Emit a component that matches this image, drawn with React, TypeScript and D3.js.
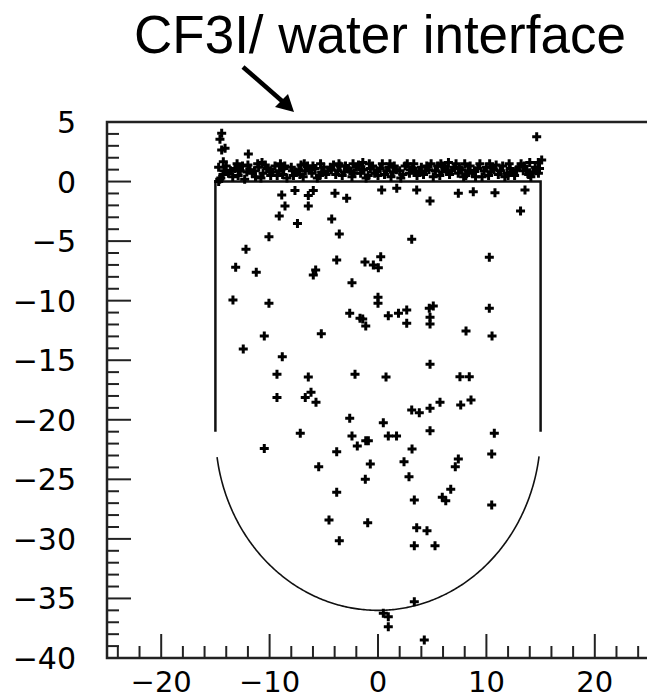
import React from 'react';
import * as d3 from 'd3';

const W = 647;
const H = 699;

const titleText = 'CF3I/ water interface';
const xMajorTicks = [-20, -10, 0, 10, 20];
const yMajorTicks = [5, 0, -5, -10, -15, -20, -25, -30, -35, -40];

// points above the interface band
const abovePoints: [number, number][] = [
  [-14.42, 4.06], [-14.58, 3.55], [-14.42, 2.65], [-14.11, 2.8], [-11.96, 2.32],
  [-14.27, 1.67], [14.64, 3.77], [15.1, 1.81], [14.79, 1.59], [-14.6, 0.2], [-14.7, 0.0],
];

// dense band at the CF3I / water interface
const bandPoints: [number, number][] = [
  [-14.7, 1.2], [-14.3, 0.6], [-14.0, 1.3], [-13.6, 0.9], [-13.2, 1.1], [-12.9, 0.5], [-12.5, 1.3],
  [-12.1, 0.8], [-11.8, 1.0], [-11.3, 0.4], [-11.0, 1.2], [-10.6, 0.7], [-10.2, 1.1], [-9.9, 0.5],
  [-9.5, 1.3], [-9.1, 0.9], [-8.7, 1.1], [-8.4, 0.3], [-8.0, 1.2], [-7.6, 0.8], [-7.3, 1.0],
  [-6.9, 0.4], [-6.5, 1.3], [-6.1, 0.7], [-5.8, 1.1], [-5.4, 0.5], [-5.0, 1.2], [-4.6, 0.9],
  [-4.3, 1.0], [-3.9, 0.6], [-3.5, 1.3], [-3.1, 0.8], [-2.8, 1.1], [-2.4, 0.4], [-2.0, 1.2],
  [-1.6, 0.7], [-1.3, 1.0], [-0.9, 0.5], [-0.5, 1.3], [-0.1, 0.9], [0.2, 1.1], [0.6, 0.6],
  [1.0, 1.2], [1.4, 0.8], [1.7, 1.0], [2.1, 0.3], [2.5, 1.3], [2.9, 0.7], [3.2, 1.1],
  [3.6, 0.5], [4.0, 1.2], [4.4, 0.9], [4.7, 1.0], [5.1, 0.4], [5.5, 1.3], [5.9, 0.8],
  [6.2, 1.1], [6.6, 0.6], [7.0, 1.2], [7.4, 0.7], [7.7, 1.0], [8.1, 0.5], [8.5, 1.3],
  [8.9, 0.9], [9.2, 1.1], [9.6, 0.4], [10.0, 1.2], [10.4, 0.8], [10.7, 1.0], [11.1, 0.6],
  [11.5, 1.3], [11.9, 0.7], [12.2, 1.1], [12.6, 0.5], [13.0, 1.2], [13.4, 0.9], [13.7, 1.0],
  [14.1, 0.4], [14.5, 1.2], [14.8, 0.7],
  [-14.5, 0.3], [-13.8, 0.7], [-12.3, 0.2], [-11.6, 0.7], [-10.4, 1.4], [-9.7, 0.8], [-8.8, 0.6],
  [-7.8, 0.5], [-7.1, 1.4], [-6.3, 1.0], [-5.2, 0.8], [-4.1, 1.4], [-3.3, 0.5], [-2.6, 0.9],
  [-1.8, 1.4], [-1.1, 0.3], [-0.3, 0.7], [0.4, 1.5], [1.2, 0.4], [2.0, 0.9], [2.7, 1.5],
  [3.4, 0.9], [4.2, 0.6], [4.9, 1.5], [5.7, 0.5], [6.4, 0.9], [7.2, 1.5], [7.9, 0.4],
  [8.7, 0.7], [9.4, 1.5], [10.2, 0.5], [10.9, 1.4], [11.7, 0.4], [12.4, 0.8], [13.2, 1.5],
  [13.9, 0.6], [14.6, 0.9],
  [-14.2, 0.9], [-13.4, 0.4], [-12.7, 0.9], [-12.0, 1.4], [-11.4, 0.9], [-10.8, 0.3], [-10.0, 0.9],
  [-9.3, 0.5], [-8.6, 1.3], [-7.9, 0.9], [-7.2, 0.6], [-6.7, 0.9], [-6.0, 1.3], [-5.6, 0.3],
  [-4.8, 0.6], [-4.4, 1.2], [-3.7, 0.9], [-3.0, 1.3], [-2.2, 0.7], [-1.5, 1.0], [-0.7, 1.1],
  [0.0, 0.5], [0.8, 0.9], [1.5, 1.3], [2.3, 0.6], [3.0, 1.0], [3.8, 0.8], [4.5, 1.3],
  [5.3, 0.9], [6.0, 1.3], [6.8, 0.9], [7.5, 1.1], [8.3, 0.9], [9.0, 0.4], [9.8, 0.9],
  [10.5, 1.2], [11.3, 0.9], [12.0, 0.5], [12.8, 1.0], [13.5, 1.3], [14.3, 0.8], [14.9, 1.1],
  [-13.0, 1.5], [-11.1, 1.5], [-9.0, 1.5], [-6.8, 1.5], [-5.3, 1.5], [-3.6, 1.5], [-2.3, 1.5],
  [-0.8, 1.5], [1.1, 1.5], [3.3, 1.5], [5.8, 1.5], [8.0, 1.5], [10.3, 1.5], [12.1, 1.5],
  [14.0, 1.6], [-1.4, 1.6], [6.5, 1.6], [-10.7, 1.6],
];

// events in the bulk of the vessel
const bulkPoints: [number, number][] = [
  [-8.88, -1.13], [-7.66, -0.76], [-6.43, -1.18], [-5.97, -0.76], [-3.97, -0.98], [-2.89, -1.4],
  [-8.58, -2.05], [-6.43, -2.05], [-9.11, -2.89], [-7.43, -3.52], [-4.27, -3.14], [-3.57, -4.4],
  [-10.06, -4.63], [0.34, -0.71], [1.73, -0.56], [3.57, -0.71], [4.8, -1.63], [7.41, -0.98],
  [8.79, -0.85], [10.79, -0.93], [13.56, -0.71], [13.15, -2.47], [3.11, -4.84], [10.27, -6.36],
  [-12.18, -5.68], [-3.81, -6.58], [-1.2, -6.75], [0.25, -6.31], [-0.43, -7.0], [0.03, -7.23],
  [-13.13, -7.2], [-11.23, -7.62], [-5.75, -7.42], [-5.97, -7.84], [-2.4, -8.49], [-13.38, -9.94],
  [-10.06, -10.22], [0.0, -9.71], [0.0, -10.22], [-2.61, -11.06], [-1.66, -11.48], [-1.41, -11.54],
  [-1.13, -12.12], [0.95, -11.26], [1.89, -11.06], [2.65, -10.78], [2.65, -11.9], [4.73, -10.64],
  [5.1, -10.45], [4.8, -11.39], [4.8, -11.96], [10.27, -10.64], [8.12, -12.54], [10.52, -12.96],
  [-10.49, -12.96], [-5.23, -12.77], [-12.43, -14.06], [-8.83, -14.7], [-9.32, -16.18],
  [-6.43, -16.41], [-2.12, -16.18], [0.74, -16.41], [4.8, -15.34], [7.56, -16.38], [8.42, -16.38],
  [-9.32, -18.14], [-6.18, -17.69], [-6.71, -18.14], [-5.72, -18.53], [3.11, -19.18],
  [3.81, -19.4], [4.8, -19.04], [5.72, -18.53], [7.63, -18.76], [8.58, -18.34], [-2.61, -19.87],
  [0.49, -20.24], [-7.17, -21.13], [-2.4, -21.36], [-1.13, -21.76], [-0.89, -21.76],
  [-1.91, -22.2], [0.95, -21.36], [1.71, -21.36], [4.8, -20.92], [10.73, -21.13],
  [-10.49, -22.41], [-3.81, -22.68], [3.14, -22.45], [10.49, -22.87], [7.41, -23.29],
  [7.13, -23.94], [2.4, -23.52], [-0.71, -23.71], [-5.47, -23.94], [2.86, -24.78],
  [-1.17, -25.0], [-3.81, -26.09], [6.71, -25.84], [5.93, -26.51], [6.25, -26.79],
  [3.35, -26.73], [10.49, -27.15], [-4.52, -28.41], [-0.95, -28.64], [3.57, -29.06],
  [4.52, -29.31], [-3.57, -30.15], [3.35, -30.57], [5.26, -30.57], [3.35, -35.27],
  [0.49, -36.25], [0.95, -36.53], [0.95, -37.37], [4.27, -38.49],
];

const fmt = (v: number) => String(v).replace('-', '\u2212');

export default function App() {
  const x = d3.scaleLinear().domain([-25, 25]).range([107, 649]);
  const y = d3.scaleLinear().domain([-40, 5]).range([658, 122]);

  const xMinor = d3.range(-24, 25, 2).filter((v) => v % 10 !== 0);
  const yMinor = d3.range(-39, 5, 1).filter((v) => v % 5 !== 0);

  // vessel outline: cylinder walls and hemispherical bottom (centre y=-21, r=15)
  const wallPath = `M${x(-15)},${y(-21)}V${y(0)}H${x(15)}V${y(-21)}`;
  const t0 = Math.asin(2.07 / 15);
  const angles = d3.range(t0, Math.PI - t0 + 1e-6, 0.01);
  const arc = d3
    .line<number>()
    .x((t) => x(15 * Math.cos(t)))
    .y((t) => y(-21 - 15 * Math.sin(t)))(angles) as string;

  const allPts = [...bandPoints, ...abovePoints, ...bulkPoints];
  const frameColor = '#222';
  const axisFont = '"DejaVu Sans", sans-serif';

  return (
    <svg
      width={W}
      height={H}
      style={{ position: 'absolute', left: 0, top: 0, background: '#fff' }}
    >
      <rect x={0} y={0} width={W} height={H} fill="#fff" />
      {/* title and arrow */}
      <text
        x={134}
        y={53}
        fontFamily='"Liberation Sans", Arial, sans-serif'
        fontSize={53}
        fill="#000"
      >
        {titleText}
      </text>
      <line x1={243} y1={67} x2={282} y2={101} stroke="#000" strokeWidth={4.5} />
      <path d="M294,112 L275,107 L288,94 Z" fill="#000" />

      {/* frame */}
      <path
        d={`M${x(-25)},${y(5)}H${x(25)}V${y(-40)}H${x(-25)}Z`}
        fill="none"
        stroke={frameColor}
        strokeWidth={2.5}
      />
      {/* x ticks */}
      {xMajorTicks.map((v) => (
        <line key={'xM' + v} x1={x(v)} x2={x(v)} y1={y(-40)} y2={y(-40) - 24} stroke={frameColor} strokeWidth={2} />
      ))}
      {xMinor.map((v) => (
        <line key={'xm' + v} x1={x(v)} x2={x(v)} y1={y(-40)} y2={y(-40) - 12} stroke={frameColor} strokeWidth={2} />
      ))}
      {/* y ticks */}
      {yMajorTicks.map((v) => (
        <line key={'yM' + v} x1={x(-25)} x2={x(-25) + 24} y1={y(v)} y2={y(v)} stroke={frameColor} strokeWidth={2} />
      ))}
      {yMinor.map((v) => (
        <line key={'ym' + v} x1={x(-25)} x2={x(-25) + 12} y1={y(v)} y2={y(v)} stroke={frameColor} strokeWidth={2} />
      ))}
      {/* tick labels */}
      {xMajorTicks.map((v) => (
        <text key={'xl' + v} x={x(v)} y={692} textAnchor="middle" fontFamily={axisFont} fontSize={29} fill="#000">
          {fmt(v)}
        </text>
      ))}
      {yMajorTicks.map((v) => (
        <text key={'yl' + v} x={76} y={y(v) + 11} textAnchor="end" fontFamily={axisFont} fontSize={30} fill="#000">
          {fmt(v)}
        </text>
      ))}

      {/* vessel */}
      <path d={wallPath} fill="none" stroke="#111" strokeWidth={2.5} />
      <path d={arc} fill="none" stroke="#111" strokeWidth={1.6} />

      {/* events */}
      {allPts.map(([px, py], i) => (
        <path
          key={i}
          transform={`translate(${x(px)},${y(py)})`}
          d="M-4.5,0H4.5M0,-4.5V4.5"
          stroke="#000"
          strokeWidth={3}
        />
      ))}
    </svg>
  );
}
